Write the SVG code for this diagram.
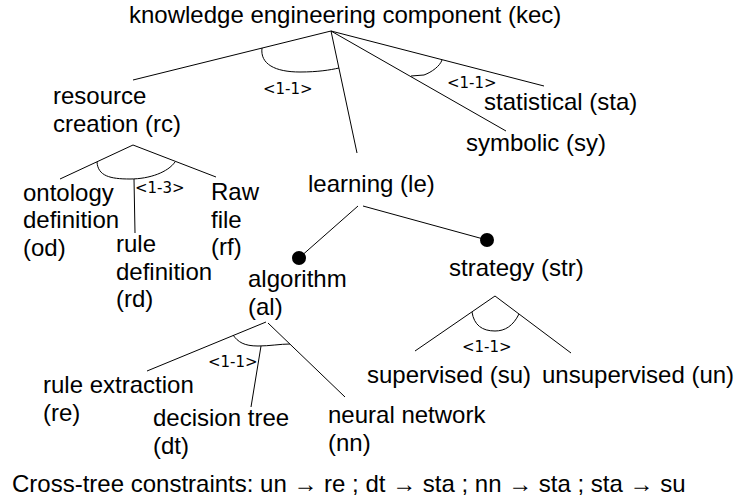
<svg xmlns="http://www.w3.org/2000/svg" width="739" height="500" viewBox="0 0 739 500">
<style>
text{font-family:"Liberation Sans",Arial,sans-serif;font-size:24px;fill:#000}
.lbl{font-family:"DejaVu Sans",sans-serif;font-size:15px}
#connectors path,#connectors line{stroke:#000;stroke-width:1;fill:none}
.dot{fill:#000}
</style>
<rect width="739" height="500" fill="#fff"/>
<g id="connectors">
<line x1="331" y1="31" x2="133" y2="80"/>
<line x1="331" y1="31" x2="357" y2="153"/>
<line x1="331" y1="31" x2="506" y2="131"/>
<line x1="331" y1="31" x2="544" y2="86"/>
<path d="M262,48 C260,64 275,72 300,72 C318,72 330,70 339,68"/>
<path d="M442,60 C440,66 432,72 424,75 L411,76"/>
<line x1="133" y1="145" x2="60" y2="179"/>
<line x1="133" y1="145" x2="216" y2="177"/>
<line x1="134" y1="179" x2="135" y2="233"/>
<path d="M97,162 C98,176 110,179 130,179 C150,179 168,172 175,162"/>
<line x1="358" y1="206" x2="299" y2="258"/>
<line x1="363" y1="206" x2="487" y2="240"/>
<circle class="dot" cx="299" cy="258" r="7"/>
<circle class="dot" cx="487" cy="240" r="7"/>
<line x1="266" y1="322" x2="147" y2="371"/>
<line x1="268" y1="323" x2="345" y2="397"/>
<line x1="261" y1="346" x2="251" y2="407"/>
<path d="M233,335 C238,342 244,346 258,346 C270,346 280,344 290,344"/>
<line x1="495" y1="296" x2="415" y2="351"/>
<line x1="495" y1="296" x2="571" y2="353"/>
<path d="M472,312 C474,325 482,331 495,331 C505,331 513,326 519,314"/>
</g>
<g id="kec"><text x="129" y="23">knowledge engineering component (kec)</text></g>
<g id="g-kec"><text class="lbl" x="263" y="94">&lt;1-1&gt;</text><text class="lbl" x="447" y="88">&lt;1-1&gt;</text></g>
<g id="rc"><text x="53" y="104">resource</text><text x="53" y="131.5">creation (rc)</text></g>
<g id="sta"><text x="484" y="110">statistical (sta)</text></g>
<g id="sy"><text x="466" y="151">symbolic (sy)</text></g>
<g id="le"><text x="308" y="192">learning (le)</text></g>
<g id="g-rc"><text class="lbl" x="135" y="193">&lt;1-3&gt;</text></g>
<g id="od"><text x="23" y="200.5">ontology</text><text x="23" y="228">definition</text><text x="23" y="255.5">(od)</text></g>
<g id="rd"><text x="116" y="252">rule</text><text x="116" y="279.5">definition</text><text x="116" y="307">(rd)</text></g>
<g id="rf"><text x="211" y="200">Raw</text><text x="211" y="227.5">file</text><text x="211" y="255">(rf)</text></g>
<g id="al"><text x="248" y="287">algorithm</text><text x="248" y="314.5">(al)</text></g>
<g id="str"><text x="449" y="276">strategy (str)</text></g>
<g id="g-str"><text class="lbl" x="462" y="352">&lt;1-1&gt;</text></g>
<g id="su"><text x="367" y="383">supervised (su)</text></g>
<g id="un"><text x="542" y="383">unsupervised (un)</text></g>
<g id="g-al"><text class="lbl" x="208" y="367">&lt;1-1&gt;</text></g>
<g id="re"><text x="43" y="393">rule extraction</text><text x="43" y="420.5">(re)</text></g>
<g id="dt"><text x="153" y="426">decision tree</text><text x="153" y="453.5">(dt)</text></g>
<g id="nn"><text x="328" y="423">neural network</text><text x="328" y="450.5">(nn)</text></g>
<g id="ctc"><text x="12" y="492">Cross-tree constraints: un → re ; dt → sta ; nn → sta ; sta → su</text></g>
</svg>
